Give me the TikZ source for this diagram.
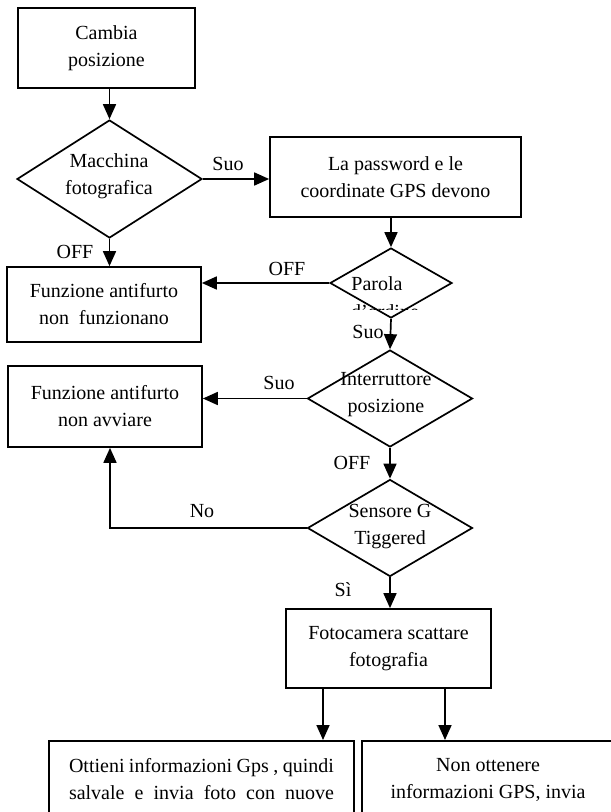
\documentclass[tikz,border=0pt]{standalone}
\usepackage{fontspec}
\setmainfont{Liberation Serif}
\usetikzlibrary{shapes.geometric,arrows.meta}

\tikzset{
  box/.style={draw,line width=1.7pt,rectangle,align=center,inner sep=4pt},
  dec/.style 2 args={draw,line width=1.7pt,diamond,inner sep=0pt,minimum width=#1,minimum height=#2},
  txt/.style={align=center,inner sep=0pt},
  lab/.style={inner sep=0pt},
}

\begin{document}
\begin{tikzpicture}[x=1pt,y=-1pt,line width=1.7pt,>={Triangle[length=15pt,width=13pt]},
  font=\fontsize{20}{27}\selectfont]
  \useasboundingbox (0,0) rectangle (611,812);
  \clip (0,0) rectangle (611,812);
  % left column
  \node[box,minimum width=177,minimum height=80] (cam) at (106.5,48) {Cambia\\posizione};
  \node[dec={185}{118}] (mac) at (109.5,179) {};
  \node[txt] (mact) at (109,176) {Macchina\\fotografica};
  \node[box,minimum width=194,minimum height=75] (nofun) at (104,304.5) {Funzione antifurto\\non~ funzionano};
  \node[box,minimum width=194,minimum height=81] (noavv) at (105,406.5) {Funzione antifurto\\non avviare};
  % right column
  \node[box,minimum width=251,minimum height=80] (pwd) at (395.5,177) {La password e le\\coordinate GPS devono};
  \node[dec={122}{70}] (par) at (391,283) {};
  \begin{scope}
    \clip (300,240) rectangle (460,309);
    \node[txt,anchor=base] (part) at (377,290) {Parola};
    \node[txt,anchor=base] (partb) at (385,318) {d'ordine};
  \end{scope}
  \node[dec={165}{97}] (int) at (390,398.5) {};
  \node[txt] (intt) at (386,395) {Interruttore\\posizione};
  \node[dec={165}{97}] (sen) at (390,528) {};
  \node[txt] (sent) at (390,527) {Sensore G\\Tiggered};
  \node[box,minimum width=205,minimum height=79] (foto) at (388.5,648.5) {Fotocamera scattare\\fotografia};
  % the two cut off boxes at the bottom
  \node[box,anchor=north,inner xsep=20pt,inner ysep=18pt] (gps) at (201.5,740)
    {\parbox[t][110pt][t]{265pt}{\parfillskip=0pt Ottieni informazioni Gps , quindi\linebreak salvale e invia foto con nuove}};
  \node[box,anchor=north,inner xsep=16pt,inner ysep=18pt] (nogps) at (488,740)
    {\parbox[t][110pt][t]{220pt}{\centering Non ottenere\\informazioni GPS, invia}};
  \coordinate (nocorner) at (110,528);
  \coordinate (fotoL) at (323,688.5);
  \coordinate (fotoR) at (445,688.5);
  % connectors
  \draw[->] (cam.south -| mac.north) -- (mac.north);
  \draw[->] (mac.east) -- (mac.east -| pwd.west);
  \draw[->] (pwd.south -| par.north) -- (par.north);
  \draw[->] (mac.south) -- (mac.south |- nofun.north);
  \draw[->] (par.west) -- (par.west -| nofun.east);
  \draw[->] (par.south) -- (int.north);
  \draw[->] (int.west) -- (int.west -| noavv.east);
  \draw[->] (int.south) -- (sen.north);
  \draw[->] (sen.west) -- (nocorner) -- (nocorner |- noavv.south);
  \draw[->] (sen.south) -- (sen.south |- foto.north);
  \draw[->] (fotoL) -- (fotoL |- gps.north);
  \draw[->] (fotoR) -- (fotoR |- nogps.north);
  % labels
  \node[lab] (l1) at (228,164) {Suo};
  \node[lab] (l2) at (75,252) {OFF};
  \node[lab] (l3) at (287,269) {OFF};
  \node[lab] (l4) at (368,332) {Suo};
  \node[lab] (l5) at (279,383) {Suo};
  \node[lab] (l6) at (352,463) {OFF};
  \node[lab] (l7) at (202,511) {No};
  \node[lab] (l8) at (343,590) {Sì};
\end{tikzpicture}
\end{document}
